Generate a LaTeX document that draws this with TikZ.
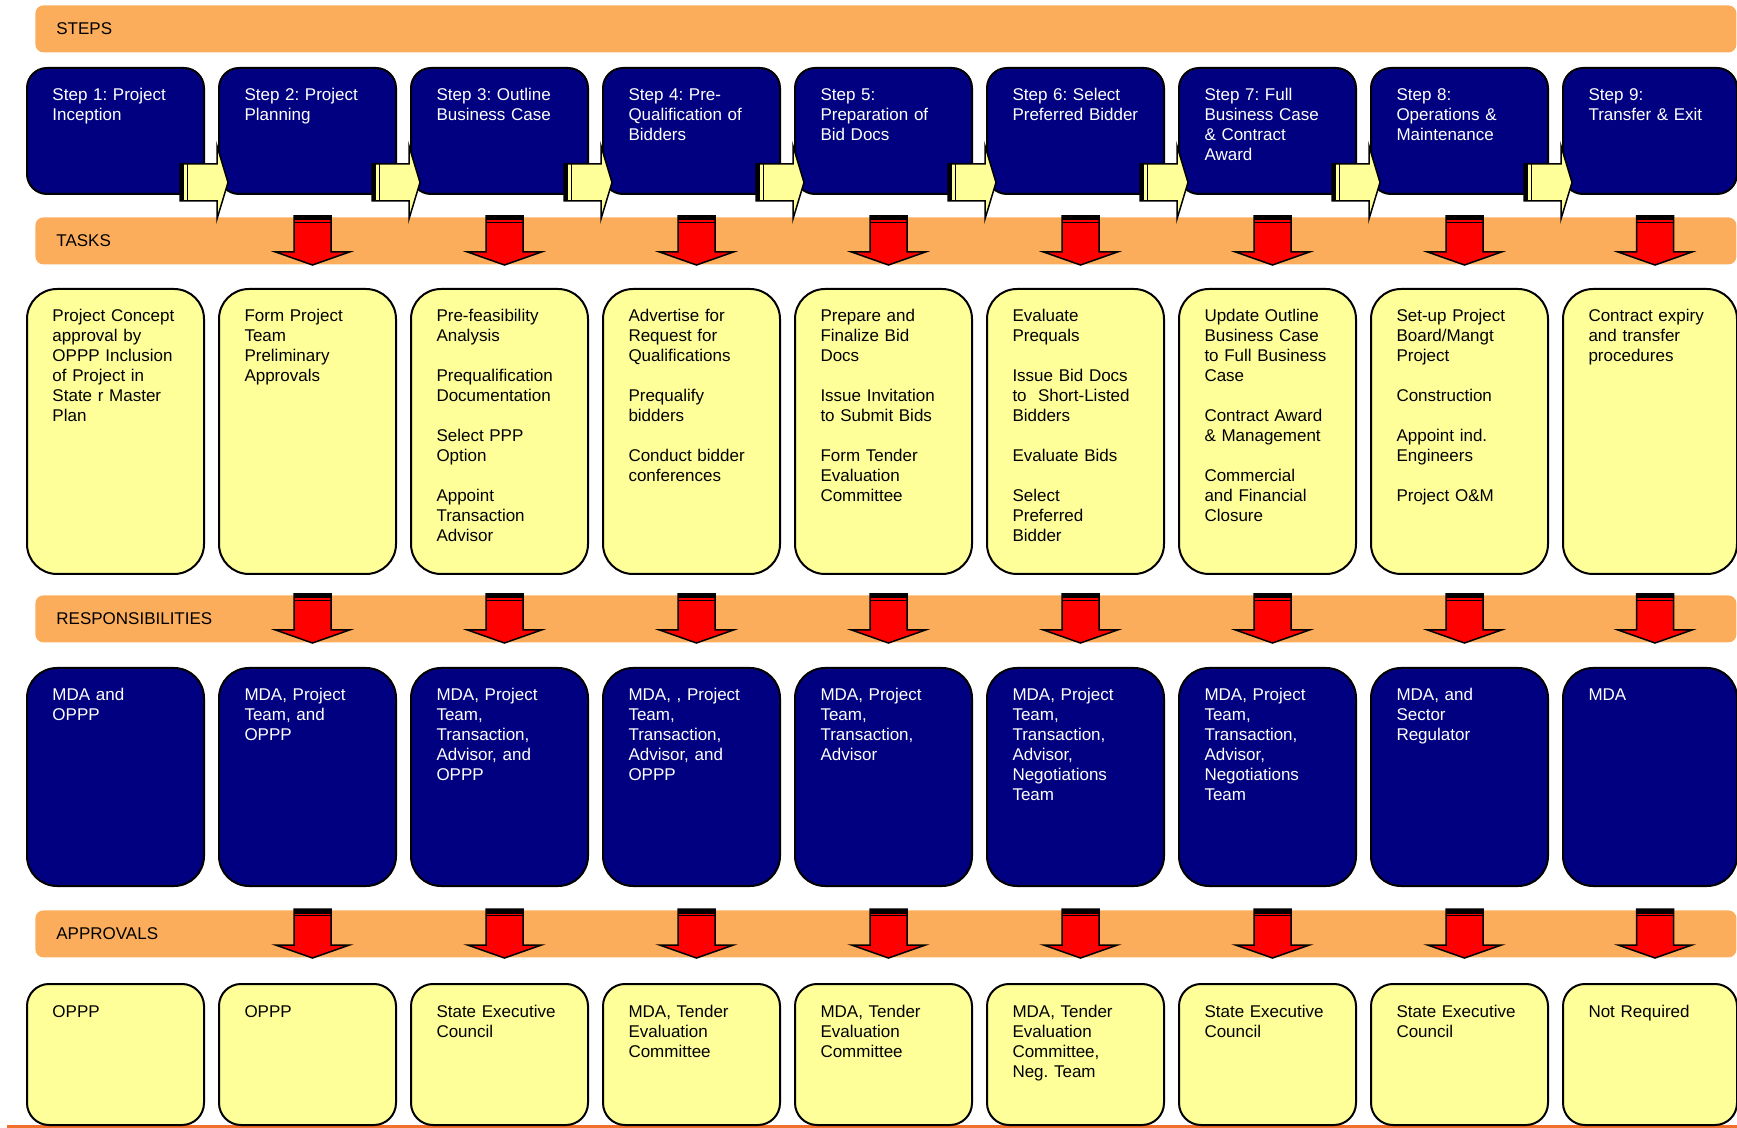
\documentclass[tikz,border=0pt]{standalone}
\usepackage{fontspec}
\setmainfont{Liberation Sans}
\frenchspacing
\definecolor{navy}{RGB}{0,0,128}
\definecolor{paleyellow}{RGB}{255,255,153}
\definecolor{bandorange}{RGB}{252,173,92}
\definecolor{lineorange}{RGB}{240,112,44}
\begin{document}
\begin{tikzpicture}[x=0.5pt, y=-0.5pt,
	basebox/.style={rectangle, draw=black, line width=1pt, anchor=north west, inner xsep=12.75pt, inner ysep=0pt, text width=63pt, text height=16.5pt, align=left, font=\fontsize{8.5}{10}\selectfont},
	stepbox/.style={basebox, fill=navy, text=white, rounded corners=10pt, text depth=46.5pt},
	taskbox/.style={basebox, fill=paleyellow, rounded corners=15pt, text depth=126pt},
	respbox/.style={basebox, fill=navy, text=white, rounded corners=15pt, text depth=92.5pt},
	apprbox/.style={basebox, fill=paleyellow, rounded corners=11pt, text depth=54pt},
	band/.style={rectangle, fill=bandorange, rounded corners=4pt, anchor=north west, inner xsep=10.5pt, inner ysep=0pt, text width=829.5pt, minimum height=23.5pt, align=left, font=\fontsize{8.5}{10}\selectfont},
	rightarr/.pic={
		\filldraw[fill=paleyellow, line width=0.75pt] (-38,-31) -- (-1,-31) -- (-1,-49) -- (10,-12.5) -- (-1,24) -- (-1,6) -- (-38,6) -- cycle;
		\fill (-38,-31) rectangle (-34,6);
		\draw[line width=0.75pt] (-30.5,-31) -- (-30.5,6);
	},
	downarr/.pic={
		\filldraw[fill=red, line width=0.75pt] (-13.5,-1) -- (23.5,-1) -- (23.5,35) -- (42,35) -- (5,48) -- (-32,35) -- (-13.5,35) -- cycle;
		\fill (-13.5,-1) rectangle (23.5,3.5);
		\draw[line width=0.75pt] (-13.5,5.3) -- (23.5,5.3);
	}]

	\path[use as bounding box] (0,0) rectangle (1737,1128);
	\clip (0,0) rectangle (1737,1128);

	\fill[lineorange] (7,1125) rectangle (1737,1128);

	% row bands
	\node[band] (steps) at (35,5) {STEPS};
	\node[band] (tasks) at (35,217) {TASKS};
	\node[band] (resp) at (35,595) {RESPONSIBILITIES};
	\node[band] (appr) at (35,910) {APPROVALS};

	% steps
	\node[stepbox] (S1) at (26,67) {Step 1: Project\\Inception};
	\node[stepbox] (S2) at (218,67) {Step 2: Project\\Planning};
	\node[stepbox] (S3) at (410,67) {Step 3: Outline\\Business Case};
	\node[stepbox] (S4) at (602,67) {Step 4: Pre-\\Qualification of\\Bidders};
	\node[stepbox] (S5) at (794,67) {Step 5:\\Preparation of\\Bid Docs};
	\node[stepbox] (S6) at (986,67) {Step 6: Select\\Preferred Bidder};
	\node[stepbox] (S7) at (1178,67) {Step 7: Full\\Business Case\\\& Contract\\Award};
	\node[stepbox] (S8) at (1370,67) {Step 8:\\Operations \&\\Maintenance};
	\node[stepbox, text width=61.5pt] (S9) at (1562,67) {Step 9:\\Transfer \& Exit};

	% tasks
	\node[taskbox] (T1) at (26,288) {Project Concept\\approval by\\OPPP Inclusion\\of Project in\\State r Master\\Plan};
	\node[taskbox] (T2) at (218,288) {Form Project\\Team\\Preliminary\\Approvals};
	\node[taskbox] (T3) at (410,288) {Pre-feasibility\\Analysis\\[10pt]Prequalification\\Documentation\\[10pt]Select PPP\\Option\\[10pt]Appoint\\Transaction\\Advisor};
	\node[taskbox] (T4) at (602,288) {Advertise for\\Request for\\Qualifications\\[10pt]Prequalify\\bidders\\[10pt]Conduct bidder\\conferences};
	\node[taskbox] (T5) at (794,288) {Prepare and\\Finalize Bid\\Docs\\[10pt]Issue Invitation\\to Submit Bids\\[10pt]Form Tender\\Evaluation\\Committee};
	\node[taskbox] (T6) at (986,288) {Evaluate\\Prequals\\[10pt]Issue Bid Docs\\to\ \ Short-Listed\\Bidders\\[10pt]Evaluate Bids\\[10pt]Select\\Preferred\\Bidder};
	\node[taskbox] (T7) at (1178,288) {Update Outline\\Business Case\\to Full Business\\Case\\[10pt]Contract Award\\\& Management\\[10pt]Commercial\\and Financial\\Closure};
	\node[taskbox] (T8) at (1370,288) {Set-up Project\\Board/Mangt\\Project\\[10pt]Construction\\[10pt]Appoint ind.\\Engineers\\[10pt]Project O\&M};
	\node[taskbox, text width=61.5pt] (T9) at (1562,288) {Contract expiry\\and transfer\\procedures};

	% responsibilities
	\node[respbox] (R1) at (26,667) {MDA and\\OPPP};
	\node[respbox] (R2) at (218,667) {MDA, Project\\Team, and\\OPPP};
	\node[respbox] (R3) at (410,667) {MDA, Project\\Team,\\Transaction,\\Advisor, and\\OPPP};
	\node[respbox] (R4) at (602,667) {MDA, , Project\\Team,\\Transaction,\\Advisor, and\\OPPP};
	\node[respbox] (R5) at (794,667) {MDA, Project\\Team,\\Transaction,\\Advisor};
	\node[respbox] (R6) at (986,667) {MDA, Project\\Team,\\Transaction,\\Advisor,\\Negotiations\\Team};
	\node[respbox] (R7) at (1178,667) {MDA, Project\\Team,\\Transaction,\\Advisor,\\Negotiations\\Team};
	\node[respbox] (R8) at (1370,667) {MDA, and\\Sector\\Regulator};
	\node[respbox, text width=61.5pt] (R9) at (1562,667) {MDA};

	% approvals
	\node[apprbox] (P1) at (26,983) {OPPP};
	\node[apprbox] (P2) at (218,983) {OPPP};
	\node[apprbox] (P3) at (410,983) {State Executive\\Council};
	\node[apprbox] (P4) at (602,983) {MDA, Tender\\Evaluation\\Committee};
	\node[apprbox] (P5) at (794,983) {MDA, Tender\\Evaluation\\Committee};
	\node[apprbox] (P6) at (986,983) {MDA, Tender\\Evaluation\\Committee,\\Neg. Team};
	\node[apprbox] (P7) at (1178,983) {State Executive\\Council};
	\node[apprbox] (P8) at (1370,983) {State Executive\\Council};
	\node[apprbox, text width=61.5pt] (P9) at (1562,983) {Not Required};

	% step to step
	\foreach \i in {2,...,9}
		\path (S\i.south west) pic {rightarr};

	% down arrows on the bands
	\foreach \i in {2,...,9} {
		\path (S\i.south |- tasks.north) pic {downarr};
		\path (R\i.north |- resp.north) pic {downarr};
		\path (P\i.north |- appr.north) pic {downarr};
	}
\end{tikzpicture}
\end{document}
